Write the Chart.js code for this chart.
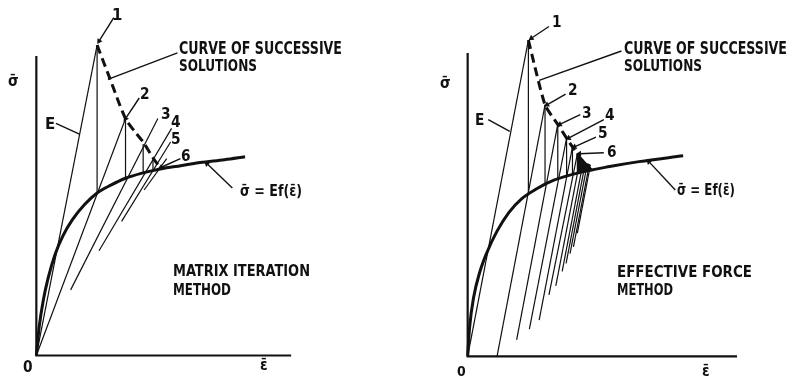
<!DOCTYPE html>
<html>
<head>
<meta charset="utf-8">
<script src="https://cdn.jsdelivr.net/npm/chart.js@4.4.1/dist/chart.umd.min.js"></script>
<style>
  html, body { margin: 0; padding: 0; background: #fff; }
  body { width: 789px; height: 382px; position: relative; overflow: hidden; }
  canvas { position: absolute; top: 0; }
  .lbl { position: absolute; white-space: nowrap; transform-origin: 0 0; color: #111; font-weight: bold;
         font-family: 'Liberation Sans Narrow', 'DejaVu Sans Condensed', 'Liberation Sans', sans-serif; }
</style>
</head>
<body>
<canvas id="left" width="400" height="382" style="left:0"></canvas>
<canvas id="right" width="389" height="382" style="left:400px"></canvas>
<script>
// units: strain (x) and stress (y), 1 unit = 10 px

// ---- matrix iteration method (left) ----
const leftAxes = [[0, 30.6], [0, 0], [26.0, 0]];
const leftCurve = [[0, 0], [0.3, 3.0], [0.7, 5.6], [1.2, 7.9], [1.9, 10.3], [2.7, 12.2], [3.7, 13.9],
    [4.9, 15.4], [6.2, 16.6], [7.6, 17.4], [9.1, 18.1], [10.7, 18.6], [12.4, 19.0], [14.2, 19.3],
    [16.7, 19.7], [19.2, 20.0], [21.3, 20.3]];
const leftE = [[0, 0], [6.2, 31.7]];
const leftSolutions = [[6.2, 31.7], [7.5, 28.3], [9.1, 24.2], [10.1, 22.8], [10.9, 21.8], [11.9, 20.2], [12.6, 19.2]];
const leftSecants = [
    [[0, 0], [9.1, 24.2]],
    [[3.5, 6.7], [12.4, 24.2]],
    [[6.4, 10.7], [13.8, 23.2]],
    [[8.7, 13.7], [13.7, 21.8]],
    [[11.0, 16.9], [13.3, 20.1]]
];
// x, top, foot on the curve
const leftVerticals = [[6.2, 31.7, 16.6], [9.1, 24.2, 18.1], [10.9, 21.6, 18.6], [11.9, 20.2, 18.9]];
// from label to target, arrow flag
const leftLeaders = [
    [[7.9, 34.5], [6.4, 32.1], true],
    [[10.5, 26.3], [9.1, 24.2], true],
    [[14.7, 20.1], [12.7, 19.2], true],
    [[14.4, 30.9], [7.3, 28.2], false],
    [[2.0, 23.7], [4.4, 22.6], false],
    [[20.0, 17.1], [17.4, 19.6], true]
];

// ---- effective force method (right) ----
const rightAxes = [[0, 31.0], [0, 0], [27.5, 0]];
const rightCurve = [[0, 0], [0.2, 3.0], [0.6, 6.0], [1.2, 8.5], [2.0, 10.7], [3.0, 12.8], [4.2, 14.7],
    [5.5, 16.1], [7.0, 17.1], [8.8, 18.0], [11.5, 18.8], [14.5, 19.4], [17.5, 19.9], [22.0, 20.5]];
const rightE = [[0, 0], [6.2, 32.3]];
const rightSolutions = [[6.2, 32.3], [7.9, 25.7], [9.2, 23.7], [10.1, 22.3], [10.7, 21.4], [11.2, 20.7],
    [11.5, 20.2], [11.8, 19.9], [12.0, 19.7], [12.2, 19.6], [12.4, 19.5], [12.5, 19.4]];
// foot of each line parallel to E, for solutions 2..12
const rightStarts = [[3.0, 0], [5.0, 1.7], [6.3, 2.8], [7.3, 3.7], [8.3, 6.3], [9.0, 7.2], [9.65, 8.7],
    [10.05, 9.5], [10.45, 10.5], [10.8, 11.2], [11.2, 12.6]];
const rightFeet = [16.6, 17.6, 18.1, 18.4, 18.6, 18.7, 18.8, 18.85, 18.9, 18.95, 19.0, 19.0];
const rightWedge = [[11.2, 20.7], [12.8, 19.0], [11.3, 18.8], [11.2, 20.7]];
const rightLeaders = [
    [[8.3, 33.7], [6.5, 32.5], true],
    [[10.0, 26.8], [8.1, 25.7], true],
    [[11.5, 24.7], [9.4, 23.7], true],
    [[13.9, 24.2], [10.3, 22.3], true],
    [[13.1, 22.4], [10.9, 21.4], true],
    [[13.9, 20.8], [11.4, 20.7], true],
    [[15.7, 31.2], [7.3, 28.2], false],
    [[2.1, 24.2], [4.3, 23.0], false],
    [[21.2, 17.0], [18.5, 19.9], true]
];

const INK = '#111';

function line(points, opts) {
    return Object.assign({
        data: points.map(p => ({ x: p[0], y: p[1] })),
        showLine: true, borderColor: INK, backgroundColor: INK,
        borderWidth: 1.2, pointRadius: 0, fill: false, clip: false
    }, opts || {});
}

function leader(l) {
    const [from, to, arrow] = l;
    const ang = Math.atan2(to[0] - from[0], to[1] - from[1]) * 180 / Math.PI;
    return line([from, to], {
        borderWidth: 1.4,
        pointStyle: 'triangle',
        pointRadius: [0, arrow ? 3.4 : 0],
        pointRotation: [0, ang],
        pointBorderWidth: 0
    });
}

function makePanel(id, origin, size, sets) {
    new Chart(document.getElementById(id), {
        type: 'scatter',
        data: { datasets: sets },
        options: {
            responsive: false,
            animation: false,
            events: [],
            layout: { padding: 0 },
            plugins: { legend: { display: false }, tooltip: { enabled: false } },
            scales: {
                x: { type: 'linear', display: false, min: -origin[0] / 10, max: (size[0] - origin[0]) / 10 },
                y: { type: 'linear', display: false, min: -(size[1] - origin[1]) / 10, max: origin[1] / 10 }
            }
        }
    });
}

// left
const leftSets = [
    line(leftAxes, { borderWidth: 2.2 }),
    line(leftCurve, { borderWidth: 3, cubicInterpolationMode: 'monotone' }),
    line(leftE),
    line(leftSolutions, { borderWidth: 3, borderDash: [9, 5], tension: 0.3 })
];
leftSecants.forEach(s => leftSets.push(line(s)));
leftVerticals.forEach(v => leftSets.push(line([[v[0], v[1]], [v[0], v[2]]])));
leftLeaders.forEach(l => leftSets.push(leader(l)));
makePanel('left', [33, 359], [400, 382], leftSets);

// right
const rightSets = [
    line(rightAxes, { borderWidth: 2.2 }),
    line(rightCurve, { borderWidth: 3, cubicInterpolationMode: 'monotone' }),
    line(rightE),
    line(rightSolutions, { borderWidth: 3, borderDash: [9, 5], tension: 0.2 }),
    line(rightWedge, { fill: 'shape' })
];
rightStarts.forEach((s, i) => rightSets.push(line([s, rightSolutions[i + 1]])));
rightSolutions.forEach((p, i) => rightSets.push(line([p, [p[0], rightFeet[i]]])));
rightLeaders.forEach(l => rightSets.push(leader(l)));
makePanel('right', [65, 360], [389, 382], rightSets);

// text: [text, left px, cap top px, cap height px, width px]
const labels = [
    ['CURVE OF SUCCESSIVE', 179, 42, 12.5, 163],
    ['SOLUTIONS', 179, 60, 12, 78],
    ['MATRIX ITERATION', 173, 266, 11, 137],
    ['METHOD', 173, 285, 11, 58],
    ['1', 112, 9, 12, 0],
    ['2', 140, 89, 11, 0],
    ['3', 161, 109, 11, 0],
    ['4', 171, 117, 11, 0],
    ['5', 171, 134, 11, 0],
    ['6', 181, 151, 11, 0],
    ['E', 45, 118, 12, 0],
    ['0', 23, 362, 11, 0],
    ['σ̄', 8, 76, 11, 0],
    ['ε̄', 260, 360, 11, 0],
    ['σ̄ = Ef(ε̄)', 240, 185, 12, 62],

    ['CURVE OF SUCCESSIVE', 624, 42, 12.5, 163],
    ['SOLUTIONS', 624, 60, 12, 78],
    ['EFFECTIVE FORCE', 617, 267, 11, 135],
    ['METHOD', 617, 285, 11, 56],
    ['1', 552, 17, 11, 0],
    ['2', 568, 85, 11, 0],
    ['3', 582, 108, 11, 0],
    ['4', 605, 110, 11, 0],
    ['5', 598, 128, 11, 0],
    ['6', 607, 147, 11, 0],
    ['E', 475, 115, 11, 0],
    ['0', 457, 367, 10, 0],
    ['σ̄', 440, 78, 11, 0],
    ['ε̄', 702, 366, 11, 0],
    ['σ̄ = Ef(ε̄)', 677, 184, 12, 58]
];

labels.forEach(([text, x, top, cap, width]) => {
    const fs = cap / 0.72;
    const el = document.createElement('div');
    el.className = 'lbl';
    el.textContent = text;
    el.style.fontSize = fs + 'px';
    el.style.lineHeight = fs + 'px';
    el.style.left = x + 'px';
    el.style.top = (top - 0.12 * fs) + 'px';
    document.body.appendChild(el);
    if (width) {
        const w = el.getBoundingClientRect().width;
        el.style.transform = 'scaleX(' + (width / w) + ')';
    }
});
</script>
</body>
</html>
